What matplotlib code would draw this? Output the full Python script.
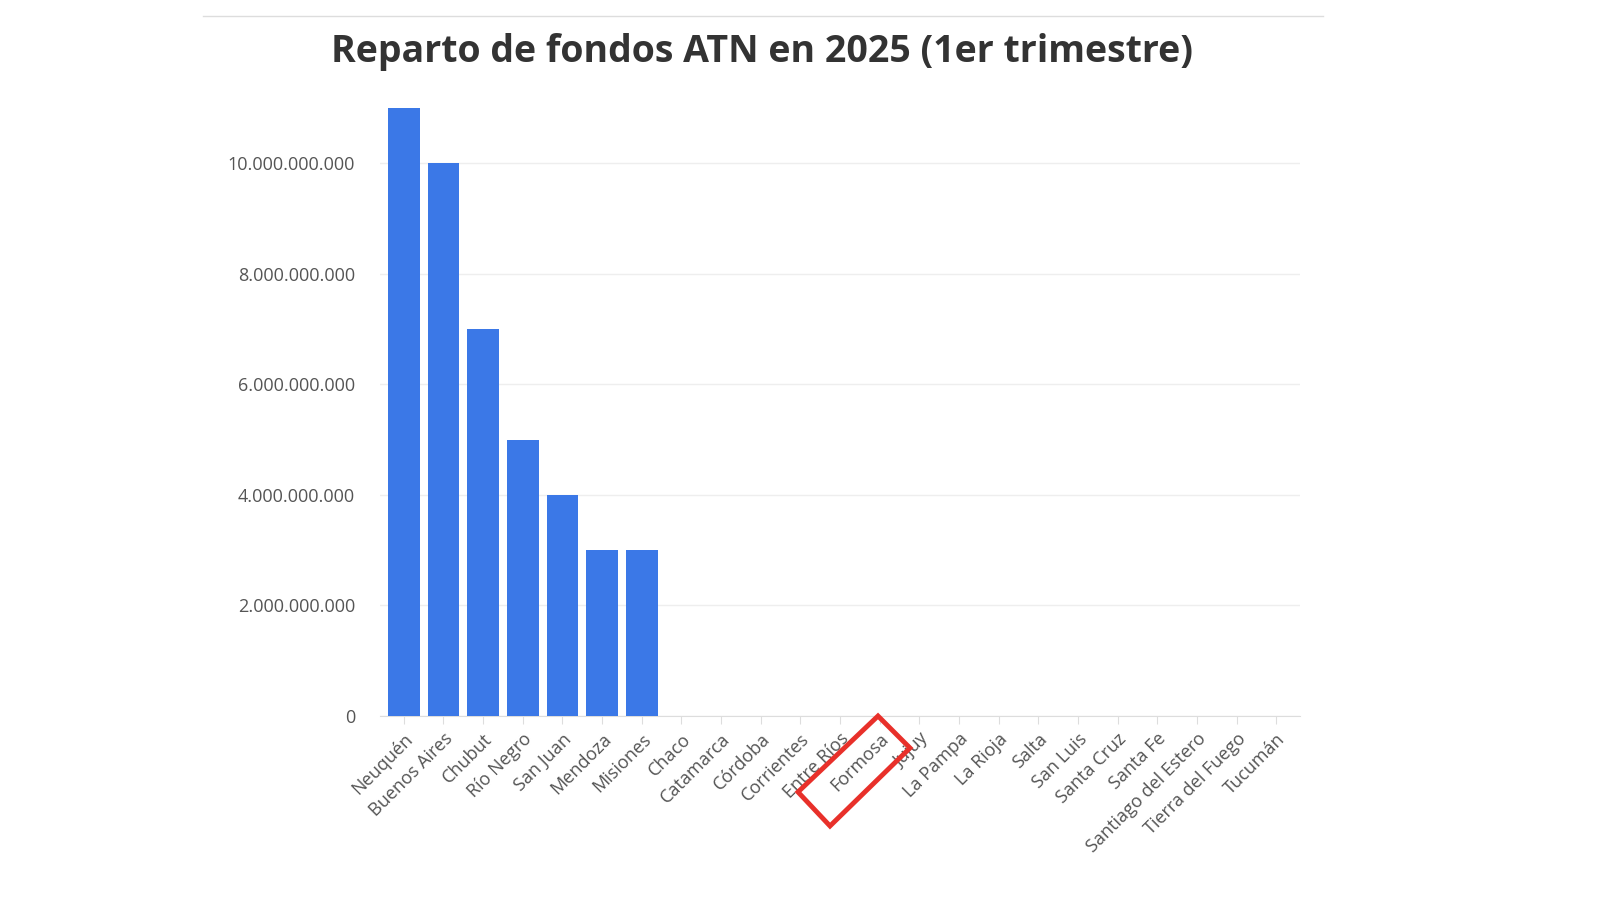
import matplotlib
matplotlib.use("Agg")
import matplotlib.pyplot as plt
from matplotlib.patches import Polygon
from matplotlib.lines import Line2D
from matplotlib.transforms import IdentityTransform
from matplotlib.ticker import FuncFormatter

provincias = ["Neuquén", "Buenos Aires", "Chubut", "Río Negro", "San Juan", "Mendoza",
              "Misiones", "Chaco", "Catamarca", "Córdoba", "Corrientes", "Entre Ríos",
              "Formosa", "Jujuy", "La Pampa", "La Rioja", "Salta", "San Luis",
              "Santa Cruz", "Santa Fe", "Santiago del Estero", "Tierra del Fuego", "Tucumán"]
montos = [11e9, 10e9, 7e9, 5e9, 4e9, 3e9, 3e9] + [0] * 16
yticks = [0, 2e9, 4e9, 6e9, 8e9, 10e9]

plt.rcParams["font.family"] = "Open Sans"
fig = plt.figure(figsize=(16, 9), dpi=100)
W, H = 1600, 900
ax = fig.add_axes([380 / W, 1 - 716 / H, (1300 - 380) / W, (716 - 100) / H])

ax.bar(range(len(provincias)), montos, width=0.8, color="#3b78e7", zorder=3)
ax.set_xlim(-0.6, len(provincias) - 0.4)
ax.set_ylim(0, 11.14e9)
ax.set_yticks(yticks)
ax.yaxis.set_major_formatter(FuncFormatter(lambda v, p: f"{int(v):,}".replace(",", ".")))
ax.grid(axis="y", color="#eeeeee", linewidth=1, zorder=0)
ax.set_xticks(range(len(provincias)))
ax.set_xticklabels(provincias, rotation=45, ha="right", rotation_mode="anchor")
ax.tick_params(axis="x", length=6, color="#dddddd", labelsize=13, labelcolor="#555555", pad=4)
ax.tick_params(axis="y", length=0, labelsize=13, labelcolor="#555555", pad=18)
for s in ["top", "right", "left"]:
    ax.spines[s].set_visible(False)
ax.spines["bottom"].set_color("#dddddd")

fig.text(762 / W, 1 - 52 / H, "Reparto de fondos ATN en 2025 (1er trimestre)",
         ha="center", va="center", fontsize=27, fontweight="bold", color="#333333")
fig.add_artist(Line2D([203, 1323], [H - 16, H - 16], transform=IdentityTransform(),
                      color="#dddddd", linewidth=1))
pts = [(798, 792), (878, 716), (910, 748), (830, 826)]
fig.add_artist(Polygon([(x, H - y) for x, y in pts], closed=True, fill=False,
                       edgecolor="#e8302a", linewidth=3.5, transform=IdentityTransform()))

fig.savefig("out.png", dpi=100)
